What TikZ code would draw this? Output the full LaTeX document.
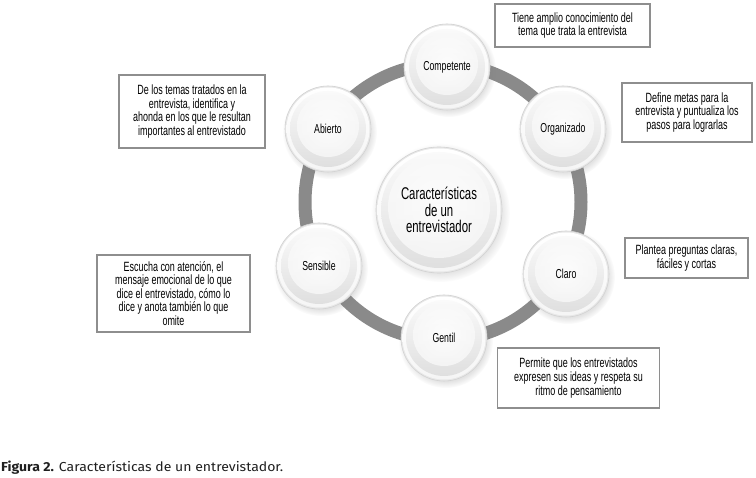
\documentclass[tikz,border=0pt]{standalone}
\usepackage{fontspec}
\setmainfont{Liberation Sans}
\newfontfamily\narrowf[FakeStretch=0.67]{Liberation Sans}
\newfontfamily\capf[FakeStretch=1.08]{Fira Sans}
\usetikzlibrary{shadows}
\definecolor{boxgray}{HTML}{8E8E8E}
\definecolor{ringgray}{HTML}{8A8A8A}
\begin{document}
\begin{tikzpicture}[x=1pt,y=-1pt,
  infobox/.style={draw=boxgray, line width=1.8pt, fill=white, align=center,
    font=\narrowf\fontsize{13.4}{13.6}\selectfont, inner sep=0pt},
  ball/.style={circle, inner sep=0pt, minimum size=2*#1,
    fill=gray!18, draw=gray!35, line width=0.6pt,
    circular drop shadow={shadow xshift=1.5pt, shadow yshift=-2.5pt, opacity=0.22},
    path picture={
      \shade[top color=white, bottom color=gray!8]
        (path picture bounding box.center) circle[radius=#1-1.5pt];
      \shade[top color=gray!4, bottom color=gray!25]
        (path picture bounding box.center) circle[radius=#1-5pt];
      \shade[inner color=white, outer color=gray!5, opacity=0.8]
        ([yshift=3pt]path picture bounding box.center) circle[radius=#1-12pt];
    }},
  sat/.style={ball=43pt, font=\narrowf\fontsize{13}{14}\selectfont},
  hub/.style={ball=63pt, align=center, font=\narrowf\fontsize{17}{16.5}\selectfont}
]
\useasboundingbox (0,0) rectangle (756,478);
\fill[white] (0,0) rectangle (756,478);

% ring
\coordinate (ringc) at (443,202);
\draw[ringgray, line width=13pt] (ringc) circle[radius=138pt];

% central circle
\node[hub] (hubn) at (439,210) {Características\\de un\\entrevistador};

% satellites
\node[sat] (comp) at (447,67) {Competente};
\node[sat] (org) at (563,129) {Organizado};
\node[sat] (claro) at (566,274) {Claro};
\node[sat] (gentil) at (444,338) {Gentil};
\node[sat] (sens) at (319,266) {Sensible};
\node[sat] (abierto) at (328,129) {Abierto};

% boxes
\node[infobox, minimum width=155pt, minimum height=43pt] (b1) at (572.5,25.5)
  {Tiene amplio conocimiento del\\tema que trata la entrevista};
\node[infobox, minimum width=146pt, minimum height=73pt] (b2) at (192,111.5)
  {De los temas tratados en la\\entrevista, identifica y\\ahonda en los que le resultan\\importantes al entrevistado};
\node[infobox, minimum width=130pt, minimum height=59pt] (b3) at (687,112.5)
  {Define metas para la\\entrevista y puntualiza los\\pasos para lograrlas};
\node[infobox, minimum width=153pt, minimum height=77pt] (b4) at (173.5,293.5)
  {Escucha con atención, el\\mensaje emocional de lo que\\dice el entrevistado, cómo lo\\dice y anota también lo que\\omite};
\node[infobox, minimum width=123pt, minimum height=40pt] (b5) at (686.5,258)
  {Plantea preguntas claras,\\fáciles y cortas};
\node[infobox, minimum width=162pt, minimum height=60pt] (b6) at (578.5,378)
  {Permite que los entrevistados\\expresen sus ideas y respeta su\\ritmo de pensamiento};

% caption
\node[anchor=base west, inner sep=0pt, text=black!88,
  font=\capf\fontsize{13}{15}\selectfont] (cap) at (1,472)
  {\textbf{Figura 2.} Características de un entrevistador.};
\end{tikzpicture}
\end{document}
